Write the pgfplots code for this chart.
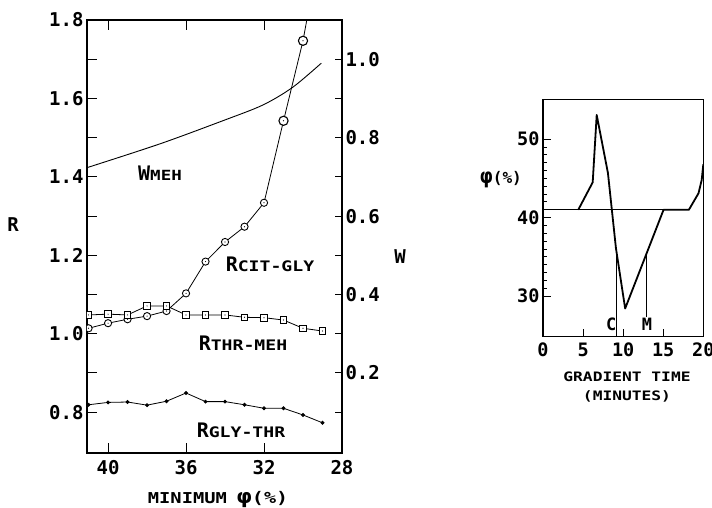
\documentclass[border=0pt]{standalone}
\usepackage{fontspec}
\setmainfont{DejaVu Sans Mono}
\newfontfamily\wf[FakeStretch=1.25]{DejaVu Sans Mono}
\usepackage{pgfplots}
\pgfplotsset{compat=1.18}
\pgfdeclareplotmark{codot}{%
  \pgfpathcircle{\pgfpointorigin}{\pgfplotmarksize}\pgfusepathqfillstroke
  \begin{pgfscope}\pgfsetfillcolor{black}\pgfpathcircle{\pgfpointorigin}{0.6pt}\pgfusepathqfill\end{pgfscope}}
\pgfdeclareplotmark{sqdot}{%
  \pgfpathrectangle{\pgfpoint{-\pgfplotmarksize}{-\pgfplotmarksize}}{\pgfpoint{2\pgfplotmarksize}{2\pgfplotmarksize}}\pgfusepathqfillstroke
  \begin{pgfscope}\pgfsetfillcolor{black}\pgfpathcircle{\pgfpointorigin}{0.6pt}\pgfusepathqfill\end{pgfscope}}
\begin{document}
\begin{tikzpicture}
\useasboundingbox (0pt,0pt) rectangle (712pt,507pt);
% ---------------- left panel, R axis
\begin{axis}[at={(87pt,54pt)}, anchor=south west, scale only axis,
  width=255pt, height=433pt,
  x dir=reverse, xmin=28, xmax=41.08, ymin=0.696, ymax=1.8,
  xtick={28,32,36,40},
  ytick={0.8,1.0,1.2,1.4,1.6,1.8},
  yticklabels={0.8,1.0,1.2,1.4,1.6,1.8},
  minor ytick={0.9,1.1,1.3,1.5,1.7},
  ytick pos=left, tick align=inside,
  major tick length=10pt, minor tick length=10pt,
  axis line style={line width=1.2pt},
  every tick/.style={black, line width=1pt},
  tick label style={font=\fontsize{19}{19}\selectfont\bfseries},
  xticklabel style={yshift=-4pt},
  /pgf/number format/assume math mode=true,
  clip marker paths=true]
\addplot[black, line width=0.8pt, mark=codot, mark size=3.6pt, mark options={fill=white, line width=0.9pt}]
 coordinates {(41,1.014) (40,1.027) (39,1.037) (38,1.045) (37,1.058) (36,1.103) (35,1.184) (34,1.234) (33,1.273) (32,1.334) (31,1.543) (30,1.747) (29,2.02)};
\addplot[only marks, mark=codot, mark size=4.6pt, mark options={fill=white, line width=1.1pt}]
 coordinates {(31,1.543) (30,1.747)};
\addplot[black, line width=0.8pt, mark=sqdot, mark size=3.3pt, mark options={fill=white, line width=0.9pt}]
 coordinates {(41,1.048) (40,1.050) (39,1.048) (38,1.071) (37,1.071) (36,1.048) (35,1.048) (34,1.048) (33,1.042) (32,1.041) (31,1.035) (30,1.014) (29,1.007)};
\addplot[black, line width=0.8pt, mark=*, mark size=1.5pt]
 coordinates {(41,0.819) (40,0.825) (39,0.826) (38,0.818) (37,0.828) (36,0.849) (35,0.827) (34,0.827) (33,0.819) (32,0.810) (31,0.810) (30,0.793) (29,0.773)};
\end{axis}
% ---------------- left panel, W axis
\begin{axis}[at={(87pt,54pt)}, anchor=south west, scale only axis,
  width=255pt, height=433pt,
  x dir=reverse, xmin=28, xmax=41.08, ymin=-0.004, ymax=1.1,
  axis x line=none, axis y line*=right,
  ytick={0.2,0.4,0.6,0.8,1.0},
  yticklabels={0.2,0.4,0.6,0.8,1.0},
  minor ytick={0.1,0.3,0.5,0.7,0.9},
  tick align=inside,
  major tick length=7pt, minor tick length=7pt,
  axis line style={-, line width=1.2pt},
  every tick/.style={black, line width=1pt},
  tick label style={font=\fontsize{19}{19}\selectfont\bfseries},
  /pgf/number format/assume math mode=true]
\addplot[black, line width=0.9pt, smooth]
 coordinates {(41.08,0.7235) (37.35,0.784) (34.12,0.843) (32.07,0.883) (30.54,0.928) (29.06,0.99)};
\end{axis}
% left panel labels
\node[font=\fontsize{19}{19}\selectfont\bfseries] at (13pt,282pt) {R};
\node[font=\fontsize{19}{19}\selectfont\bfseries] at (400pt,250pt) {W};
\node[anchor=base, font=\bfseries] at (218pt,4pt) {\wf\fontsize{15}{15}\selectfont MINIMUM\hspace{10pt}\fontsize{20}{20}\selectfont φ\fontsize{16}{16}\selectfont(\%)};
\node[font=\bfseries] at (160pt,334pt) {\fontsize{20}{20}\selectfont W\wf\fontsize{14}{14}\selectfont MEH};
\node[font=\bfseries] at (270pt,243pt) {\fontsize{20}{20}\selectfont R\wf\fontsize{14.5}{14.5}\selectfont CIT-GLY};
\node[font=\bfseries] at (243pt,164pt) {\fontsize{20}{20}\selectfont R\wf\fontsize{14.5}{14.5}\selectfont THR-MEH};
\node[font=\bfseries] at (241pt,77pt) {\fontsize{20}{20}\selectfont R\wf\fontsize{14.5}{14.5}\selectfont GLY-THR};
% ---------------- right panel
\begin{axis}[at={(543pt,170.3pt)}, anchor=south west, scale only axis,
  width=160.3pt, height=237.4pt,
  xmin=0, xmax=20, ymin=24.8, ymax=55.1,
  xtick={0,5,10,15,20}, ytick={30,40,50},
  minor y tick num=9,
  xtick pos=bottom, ytick pos=left, tick align=inside,
  major tick length=8pt, minor tick length=4pt,
  axis line style={line width=1.2pt},
  every tick/.style={black, line width=0.9pt},
  tick label style={font=\fontsize{18.5}{18.5}\selectfont\bfseries},
  xticklabel style={yshift=-3pt},
  /pgf/number format/assume math mode=true]
\addplot[black, line width=1pt] coordinates {(0,41) (18.2,41)};
\addplot[black, line width=1.8pt, line join=round]
 coordinates {(4.4,41) (6.2,44.5) (6.7,53.1) (8.1,45.7) (9.1,36.1) (10.25,28.4) (15.04,41) (18.2,41) (19.4,43.1) (19.8,44.8) (20,46.8)};
\addplot[black, line width=0.8pt] coordinates {(9.1,24.8) (9.1,36.1)};
\addplot[black, line width=0.8pt] coordinates {(12.96,27.3) (12.96,35.5)};
\node[font=\fontsize{17}{17}\selectfont\bfseries] at (axis cs:8.5,26.4) {C};
\node[font=\fontsize{17}{17}\selectfont\bfseries] at (axis cs:12.96,26.4) {M};
\end{axis}
\node[font=\bfseries] at (501pt,327pt) {\fontsize{21}{21}\selectfont φ\fontsize{16}{16}\selectfont(\%)};
\node[font=\bfseries] at (627pt,130pt) {\wf\fontsize{13}{13}\selectfont GRADIENT TIME};
\node[font=\bfseries] at (627pt,111pt) {\wf\fontsize{13}{13}\selectfont (MINUTES)};
\end{tikzpicture}
\end{document}
